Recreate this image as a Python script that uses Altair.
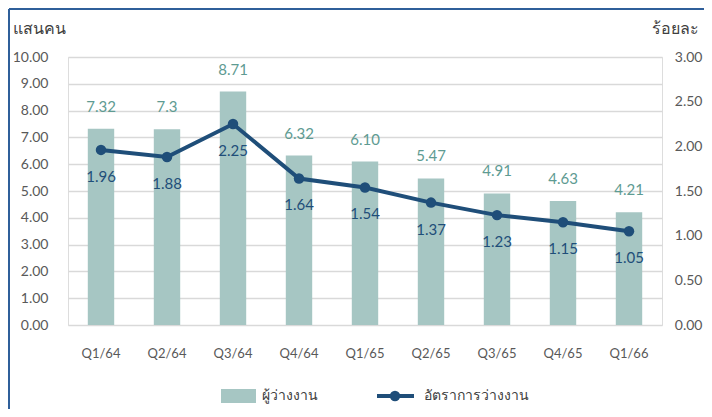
import altair as alt
import pandas as pd

quarters = ["Q1/64", "Q2/64", "Q3/64", "Q4/64", "Q1/65", "Q2/65", "Q3/65", "Q4/65", "Q1/66"]
unemployed = [7.32, 7.3, 8.71, 6.32, 6.10, 5.47, 4.91, 4.63, 4.21]
unemployed_labels = ["7.32", "7.3", "8.71", "6.32", "6.10", "5.47", "4.91", "4.63", "4.21"]
rate = [1.96, 1.88, 2.25, 1.64, 1.54, 1.37, 1.23, 1.15, 1.05]
rate_labels = ["1.96", "1.88", "2.25", "1.64", "1.54", "1.37", "1.23", "1.15", "1.05"]

left_ticks = [0, 1, 2, 3, 4, 5, 6, 7, 8, 9, 10]
right_ticks = [0, 0.5, 1, 1.5, 2, 2.5, 3]

legend_bar_name = "ผู้ว่างงาน"
legend_line_name = "อัตราการว่างงาน"
left_title = "แสนคน"
right_title = "ร้อยละ"

df = pd.DataFrame({
    "q": quarters,
    "u": unemployed,
    "ul": unemployed_labels,
    "r": rate,
    "rl": rate_labels,
})

FONT = "Lato"
BAR_C = "#A6C6C3"
LINE_C = "#1F4E79"
BAR_TXT = "#5E9B92"
AX_C = "#595959"

W, H = 594, 268

x = alt.X("q:N", sort=quarters, title=None,
          scale=alt.Scale(paddingInner=0.6, paddingOuter=0.3),
          axis=alt.Axis(labelAngle=0, labelPadding=22, ticks=False, domain=False,
                        labelFontSize=13, labelColor=AX_C, labelFont=FONT))

y_left = alt.Y("u:Q", scale=alt.Scale(domain=[0, 10], nice=False),
               axis=alt.Axis(values=left_ticks, format=".2f", title=left_title,
                             titleAngle=0, titleAlign="left", titleBaseline="middle",
                             titleX=-56, titleY=-29, titleFontSize=16, titleFontWeight=300,
                             titleColor="#404040", titleFont=FONT,
                             labelPadding=20, labelFontSize=14, labelColor=AX_C, labelFont=FONT,
                             labelOverlap=False, labelBound=False,
                             ticks=False, domain=False, grid=True, gridColor="#D9D9D9",
                             gridWidth=1.5))

y_right = alt.Y("r:Q", scale=alt.Scale(domain=[0, 3], nice=False),
                axis=alt.Axis(values=right_ticks, format=".2f", title=right_title, orient="right",
                              titleAngle=0, titleAlign="left", titleBaseline="middle",
                              titleX=-11, titleY=-29, titleFontSize=16, titleFontWeight=300,
                              titleColor="#404040", titleFont=FONT,
                              labelAlign="right", labelPadding=40, labelFontSize=14,
                              labelColor=AX_C, labelFont=FONT,
                              labelOverlap=False, labelBound=False,
                              ticks=False, domain=False, grid=False))

bar_base = alt.Chart(df).encode(x=x, y=y_left)
bars = bar_base.mark_bar(color=BAR_C)
bar_text = bar_base.mark_text(dy=-22, fontSize=15, color=BAR_TXT, font=FONT,
                              baseline="middle").encode(text="ul:N")
bar_layer = alt.layer(bars, bar_text)

line_base = alt.Chart(df).encode(x=x, y=y_right)
line = line_base.mark_line(color=LINE_C, strokeWidth=4)
pts = line_base.mark_point(filled=True, opacity=1, color=LINE_C, size=110)
line_text = line_base.mark_text(dy=27, fontSize=15, color=LINE_C, font=FONT,
                                baseline="middle").encode(text="rl:N")
line_layer = alt.layer(line, pts, line_text)

one = pd.DataFrame({"k": [0]})
leg = alt.Chart(one)
ox, oy = 68, 57
leg_rect = leg.mark_rect(color=BAR_C).encode(
    x=alt.value(221 - ox), x2=alt.value(256 - ox), y=alt.value(389 - oy), y2=alt.value(403 - oy))
leg_t1 = leg.mark_text(align="left", baseline="middle", fontSize=14, color="#404040", font=FONT).encode(
    x=alt.value(262 - ox), y=alt.value(396 - oy), text=alt.value(legend_bar_name))
leg_line = leg.mark_rule(color=LINE_C, strokeWidth=4).encode(
    x=alt.value(377 - ox), x2=alt.value(414 - ox), y=alt.value(396 - oy))
leg_pt = leg.mark_point(filled=True, opacity=1, color=LINE_C, size=110).encode(
    x=alt.value(395 - ox), y=alt.value(396 - oy))
leg_t2 = leg.mark_text(align="left", baseline="middle", fontSize=14, color="#404040", font=FONT).encode(
    x=alt.value(424 - ox), y=alt.value(396 - oy), text=alt.value(legend_line_name))

border_top = leg.mark_rule(color="#2F5F9A", strokeWidth=2).encode(
    x=alt.value(9 - ox), x2=alt.value(704 - ox), y=alt.value(9 - oy))
border_left = leg.mark_rule(color="#2F5F9A", strokeWidth=2).encode(
    x=alt.value(9 - ox), y=alt.value(9 - oy), y2=alt.value(409 - oy))

chart = alt.layer(bar_layer, line_layer).resolve_scale(y="independent")
chart = alt.layer(chart, leg_rect, leg_t1, leg_line, leg_pt, leg_t2, border_top, border_left).properties(
    width=W, height=H,
    autosize=alt.AutoSizeParams(type="none"),
    padding={"left": 60, "top": 49, "right": 42, "bottom": 84},
).configure_view(stroke=None).configure(background="white")

chart.save("out.html", embed_options={"renderer": "svg", "actions": False})
